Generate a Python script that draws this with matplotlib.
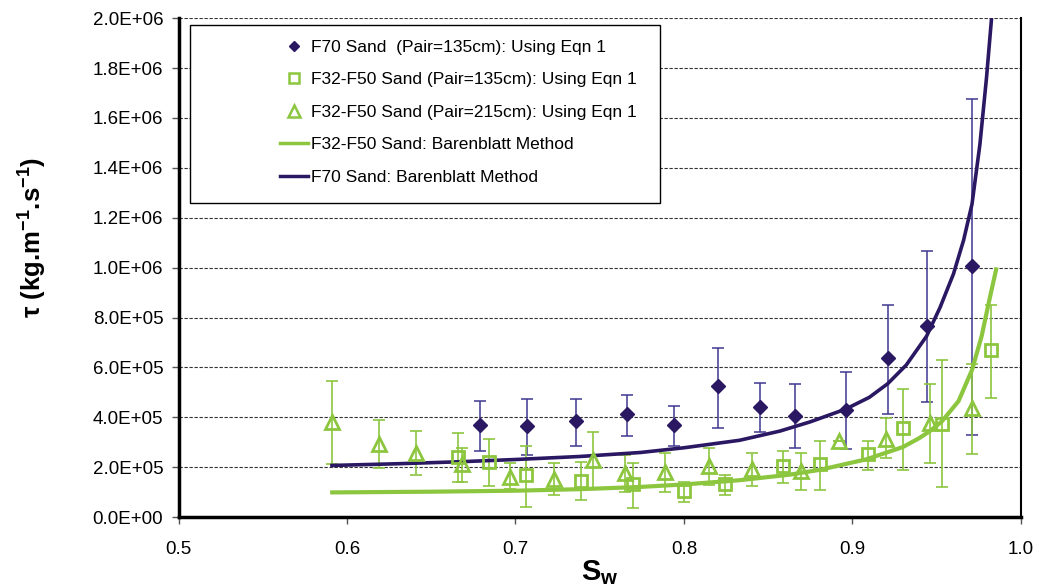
import numpy as np
import matplotlib.pyplot as plt
from matplotlib.lines import Line2D
from matplotlib.patches import Rectangle
from matplotlib.ticker import FuncFormatter

plt.rcParams['font.family'] = ['Liberation Sans', 'DejaVu Sans']
plt.rcParams['mathtext.fontset'] = 'custom'
plt.rcParams['mathtext.rm'] = 'Liberation Sans'
plt.rcParams['mathtext.bf'] = 'Liberation Sans:bold'

# F70 sand (Pair=135cm), Eqn 1: Sw, tau, error bar top / bottom
f70_sw = [0.679, 0.707, 0.736, 0.766, 0.794, 0.820, 0.845, 0.866, 0.896, 0.921, 0.944, 0.971]
f70_tau = [368e3, 365e3, 384e3, 412e3, 371e3, 524e3, 443e3, 407e3, 431e3, 636e3, 765e3, 1005e3]
f70_hi = [464e3, 473e3, 473e3, 489e3, 447e3, 679e3, 537e3, 532e3, 581e3, 851e3, 1065e3, 1677e3]
f70_lo = [264e3, 251e3, 285e3, 327e3, 284e3, 359e3, 343e3, 276e3, 272e3, 415e3, 461e3, 331e3]

# F32-F50 sand (Pair=135cm), Eqn 1
sq_sw = [0.666, 0.684, 0.706, 0.739, 0.770, 0.800, 0.8245, 0.859, 0.881, 0.909, 0.930, 0.953, 0.982]
sq_tau = [241e3, 221e3, 168e3, 144e3, 131e3, 104e3, 131e3, 204e3, 212e3, 252e3, 357e3, 375e3, 668e3]
sq_hi = [339e3, 313e3, 284e3, 219e3, 217e3, 141e3, 169e3, 267e3, 305e3, 305e3, 515e3, 628e3, 851e3]
sq_lo = [141e3, 124e3, 41e3, 67e3, 37e3, 61e3, 87e3, 135e3, 108e3, 188e3, 188e3, 121e3, 477e3]

# F32-F50 sand (Pair=215cm), Eqn 1
tr_sw = [0.591, 0.619, 0.641, 0.668, 0.697, 0.723, 0.746, 0.765, 0.789, 0.815, 0.8405,
         0.8696, 0.892, 0.920, 0.946, 0.971]
tr_tau = [381e3, 295e3, 259e3, 211e3, 159e3, 152e3, 228e3, 177e3, 179e3, 204e3, 192e3,
          184e3, 305e3, 315e3, 379e3, 439e3]
tr_hi = [545e3, 388e3, 345e3, 279e3, 217e3, 217e3, 341e3, 248e3, 259e3, 276e3, 259e3,
         257e3, 305e3, 399e3, 535e3, 615e3]
tr_lo = [212e3, 195e3, 168e3, 141e3, 111e3, 87e3, 115e3, 101e3, 99e3, 129e3, 124e3,
         108e3, 305e3, 239e3, 217e3, 255e3]

# Barenblatt method curves
bg_sw = [0.590, 0.650, 0.700, 0.738, 0.774, 0.800, 0.833, 0.8626, 0.881, 0.9084, 0.930,
         0.940, 0.946, 0.953, 0.963, 0.971, 0.9767, 0.9816, 0.9856]
bg_tau = [99e3, 102e3, 106e3, 112e3, 121e3, 131e3, 148e3, 170e3, 190e3, 232e3, 281e3,
          318e3, 345e3, 383e3, 465e3, 590e3, 725e3, 880e3, 1001e3]
bp_sw = [0.590, 0.630, 0.667, 0.700, 0.738, 0.774, 0.800, 0.833, 0.857, 0.875, 0.896,
         0.910, 0.921, 0.932, 0.944, 0.952, 0.960, 0.966, 0.971, 0.9757, 0.9796, 0.9826]
bp_tau = [207e3, 214e3, 222e3, 231e3, 243e3, 259e3, 278e3, 308e3, 345e3, 382e3, 433e3,
          480e3, 535e3, 610e3, 725e3, 840e3, 975e3, 1110e3, 1255e3, 1495e3, 1761e3, 2000e3]

green = '#8CC63F'
purple = '#2B1863'
purple_err = '#3E3890'


def err(tau, lo, hi):
    tau = np.array(tau)
    return [tau - np.array(lo), np.array(hi) - tau]


fig = plt.figure(figsize=(10.38, 5.85), dpi=100)
ax = fig.add_axes([0.172, 0.116, 0.8115, 0.853])

# error bars
ax.errorbar(f70_sw, f70_tau, yerr=err(f70_tau, f70_lo, f70_hi), fmt='none',
            ecolor=purple_err, elinewidth=1.1, capsize=4, capthick=1.1, zorder=2)
ax.errorbar(sq_sw, sq_tau, yerr=err(sq_tau, sq_lo, sq_hi), fmt='none',
            ecolor=green, elinewidth=1.2, capsize=4, capthick=1.2, zorder=2)
ax.errorbar(tr_sw, tr_tau, yerr=err(tr_tau, tr_lo, tr_hi), fmt='none',
            ecolor=green, elinewidth=1.2, capsize=4, capthick=1.2, zorder=2)

# Barenblatt curves
ax.plot(bg_sw, bg_tau, color=green, lw=3, solid_capstyle='butt', zorder=3)
ax.plot(bp_sw, bp_tau, color=purple, lw=2.6, solid_capstyle='butt', zorder=3)

# markers
ax.plot(f70_sw, f70_tau, 'D', ms=7, color=purple, mec=purple, zorder=4)
ax.plot(sq_sw, sq_tau, 's', ms=8.5, mfc='none', mec=green, mew=2, zorder=4)
ax.plot(tr_sw, tr_tau, '^', ms=9.5, mfc='none', mec=green, mew=2, zorder=4)

ax.set_xlim(0.5, 1.0)
ax.set_ylim(0, 2.0e6)
ax.set_xticks(np.arange(0.5, 1.01, 0.1))
ax.set_yticks(np.arange(0, 2.01e6, 2e5))
ax.xaxis.set_major_formatter(FuncFormatter(lambda v, p: f'{v:.1f}'))
ax.yaxis.set_major_formatter(FuncFormatter(lambda v, p: f'{v:.1E}'))
ax.tick_params(axis='both', labelsize=13.5, direction='out', length=5, width=1,
               color='#555555', pad=6)
ax.tick_params(axis='x', pad=12)

ax.yaxis.grid(True, linestyle=(0, (3, 1.5)), color='#333333', lw=0.8)
ax.set_axisbelow(True)

ax.spines['top'].set_visible(False)
ax.spines['left'].set_linewidth(2.5)
ax.spines['bottom'].set_linewidth(2.5)
ax.spines['right'].set_linewidth(1.5)

ax.set_ylabel(r'τ (kg.m$^{\mathbf{-1}}$.s$^{\mathbf{-1}}$)', fontsize=18.5,
              fontweight='bold')
ax.yaxis.set_label_coords(-0.155, 0.56)
ax.set_xlabel(r'S$_{\mathbf{w}}$', fontsize=21, fontweight='bold', labelpad=0)

# legend box and entries
ax.add_patch(Rectangle((0.0137, 0.629), 0.558, 0.357, transform=ax.transAxes,
                       facecolor='white', edgecolor='black', lw=1, zorder=5))
handles = [
    Line2D([], [], ls='none', marker='D', ms=5.5, color=purple),
    Line2D([], [], ls='none', marker='s', ms=7.5, mfc='none', mec=green, mew=1.8),
    Line2D([], [], ls='none', marker='^', ms=8, mfc='none', mec=green, mew=1.8),
    Line2D([], [], color=green, lw=2.5),
    Line2D([], [], color=purple, lw=2.5),
]
labels = [
    'F70 Sand  (Pair=135cm): Using Eqn 1',
    'F32-F50 Sand (Pair=135cm): Using Eqn 1',
    'F32-F50 Sand (Pair=215cm): Using Eqn 1',
    'F32-F50 Sand: Barenblatt Method',
    'F70 Sand: Barenblatt Method',
]
leg = ax.legend(handles, labels, loc='upper left', bbox_to_anchor=(0.1205, 0.957),
                frameon=False, fontsize=12.5, handlelength=1.6, handletextpad=0.2,
                labelspacing=1.0, borderpad=0, borderaxespad=0)
leg.set_zorder(6)

fig.savefig('out.png', dpi=100)
